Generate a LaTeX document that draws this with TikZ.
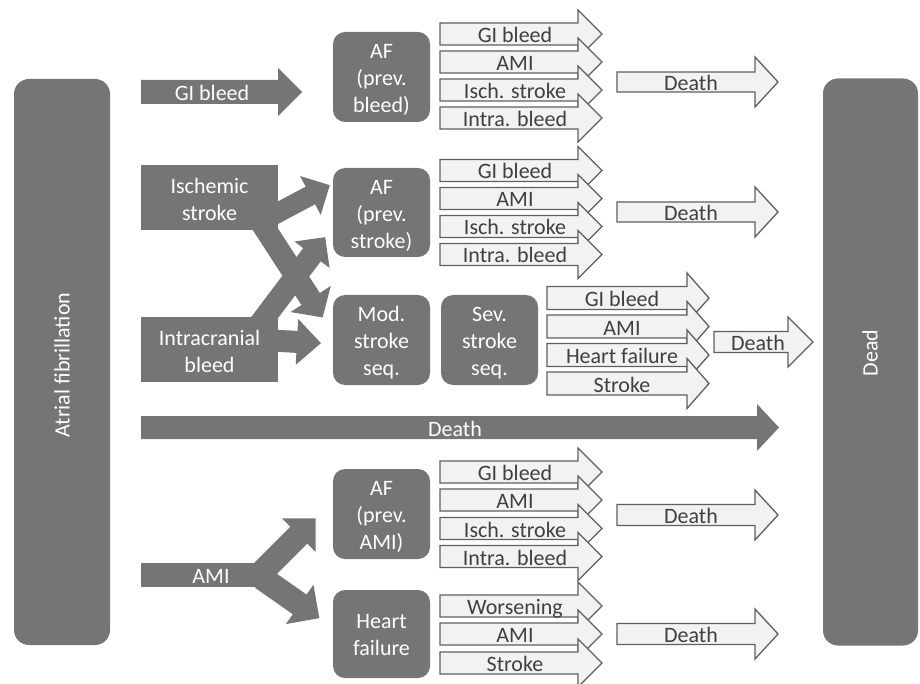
\documentclass[tikz,border=0pt]{standalone}
\usepackage{fontspec}
\setmainfont{Carlito}
\definecolor{dk}{RGB}{117,117,117}
\definecolor{lt}{RGB}{242,242,242}
\definecolor{ln}{RGB}{95,95,95}
\definecolor{tx}{RGB}{64,64,64}
\tikzset{
  larw/.style={fill=lt, draw=ln, line width=1.3pt, line join=miter},
  ltxt/.style={anchor=base, text=tx, inner sep=0pt, font=\fontsize{22}{27}\selectfont},
  wtxt/.style={text=white, inner sep=0pt, align=center, font=\fontsize{22}{27}\selectfont},
  wbase/.style={wtxt, anchor=base},
  dbox/.style={fill=dk, draw=none, rounded corners=12pt, inner sep=0pt},
  dbar/.style={fill=dk, draw=none, rounded corners=15pt, inner sep=0pt},
  drect/.style={fill=dk, draw=none, inner sep=0pt}
}
% light block arrow: name, xl, xb, xt, yc, halfbody, halfhead, text, textx
\newcommand{\LArw}[9]{%
  \filldraw[larw] ({#2},{#5-#6}) -- ({#3},{#5-#6}) -- ({#3},{#5-#7}) -- ({#4},{#5})
     -- ({#3},{#5+#7}) -- ({#3},{#5+#6}) -- ({#2},{#5+#6}) -- cycle;
  \node[ltxt] (#1) at ({#9},{#5+8.5}) {#8};
}
% dark block arrow: x0, y0, angle, length, halfshaft, halfhead, headlength
\newcommand{\DArw}[7]{%
  \begin{scope}[shift={(#1,#2)},rotate=#3]
    \fill[dk] (0,{-#5}) -- ({#4-#7},{-#5}) -- ({#4-#7},{-#6}) -- (#4,0)
      -- ({#4-#7},{#6}) -- ({#4-#7},{#5}) -- (0,{#5}) -- cycle;
  \end{scope}}
\begin{document}
\begin{tikzpicture}[x=1pt,y=-1pt]
\useasboundingbox (0,0) rectangle (920,684);

% side bars
\node[dbar, minimum width=96pt, minimum height=566pt] (af) at (62,362) {};
\node[wtxt, rotate=90] (aft) at (62,365) {Atrial fibrillation};
\node[dbar, minimum width=95pt, minimum height=567pt] (dead) at (870.5,362) {};
\node[wtxt, rotate=90] (deadt) at (870,353) {Dead};

% ---- top: GI bleed
\DArw{141}{92}{0}{161}{12}{24}{24}
\node[wbase] (gib) at (212,100.5) {GI bleed};
\node[dbox, minimum width=97pt, minimum height=90pt] (af1) at (381.5,77) {};
\node[wtxt] (af1t) at ([yshift=-3pt]af1.center) {AF\\(prev.\\bleed)};
\LArw{g1a}{440}{578}{602}{34}{11}{24}{GI bleed}{515}
\LArw{g1b}{440}{578}{602}{62}{11}{24}{AMI}{515}
\LArw{g1c}{440}{578}{602}{90}{11}{24}{Isch. stroke}{515}
\LArw{g1d}{440}{578}{602}{118}{11}{24}{Intra. bleed}{515}
\LArw{d1}{617}{755}{778}{82}{10}{25}{Death}{691}

% ---- stroke cross
\DArw{268}{218}{28}{70}{10}{22}{22}
\DArw{260}{221}{-57}{115}{11}{24}{22}
\DArw{253}{333}{53}{120}{11}{22}{22}
\DArw{261}{340}{-3}{60}{11}{23}{24}
\node[drect, minimum width=137pt, minimum height=65pt] (isch) at (209.5,197.5) {};
\node[wtxt] (ischt) at ([yshift=-1.5pt]isch.center) {Ischemic\\stroke};
\node[drect, minimum width=137pt, minimum height=65pt] (intra) at (209.5,349.5) {};
\node[wtxt] (intrat) at ([yshift=-1.5pt]intra.center) {Intracranial\\bleed};

\node[dbox, minimum width=97pt, minimum height=89pt] (af2) at (381.5,212.5) {};
\node[wtxt] (af2t) at ([yshift=-3pt]af2.center) {AF\\(prev.\\stroke)};
\LArw{g2a}{440}{578}{602}{170.5}{11}{24}{GI bleed}{515}
\LArw{g2b}{440}{578}{602}{198.5}{11}{24}{AMI}{515}
\LArw{g2c}{440}{578}{602}{226.5}{11}{24}{Isch. stroke}{515}
\LArw{g2d}{440}{578}{602}{254.5}{11}{24}{Intra. bleed}{515}
\LArw{d2}{617}{755}{778}{212}{10}{25}{Death}{691}

\node[dbox, minimum width=97pt, minimum height=90pt] (mod) at (381.5,340) {};
\node[wtxt] (modt) at ([yshift=-3pt]mod.center) {Mod.\\stroke\\seq.};
\node[dbox, minimum width=97pt, minimum height=90pt] (sev) at (489.5,340) {};
\node[wtxt] (sevt) at ([yshift=-3pt]sev.center) {Sev.\\stroke\\seq.};
\LArw{g3a}{547}{687}{709}{298}{11.5}{25}{GI bleed}{622}
\LArw{g3b}{547}{687}{709}{326.5}{11.5}{25}{AMI}{622}
\LArw{g3c}{547}{687}{709}{355}{11.5}{25}{Heart failure}{622}
\LArw{g3d}{547}{687}{709}{383.5}{11.5}{25}{Stroke}{622}
\LArw{d3}{714}{788}{813}{342}{10.5}{25}{Death}{758}

% ---- big death
\DArw{141}{427.5}{0}{638}{11.5}{23.5}{22}
\node[wbase] (death) at (455,436) {Death};

% ---- AMI
\fill[dk] (141,563) rectangle (270,587);
\DArw{262}{572}{45}{76}{12}{24}{24}
\DArw{262}{578}{-35}{70}{12}{24}{24}
\node[wbase] (ami) at (211,583.5) {AMI};

\node[dbox, minimum width=97pt, minimum height=90pt] (af4) at (381.5,514) {};
\node[wtxt] (af4t) at ([yshift=-3pt]af4.center) {AF\\(prev.\\AMI)};
\LArw{g4a}{440}{578}{602}{472}{11}{24}{GI bleed}{515}
\LArw{g4b}{440}{578}{602}{500}{11}{24}{AMI}{515}
\LArw{g4c}{440}{578}{602}{528.5}{11}{24}{Isch. stroke}{515}
\LArw{g4d}{440}{578}{602}{556.5}{11}{24}{Intra. bleed}{515}
\LArw{d4}{617}{755}{778}{515}{10.5}{25}{Death}{691}

\node[dbox, minimum width=97pt, minimum height=88pt] (hf) at (381.5,634) {};
\node[wtxt] (hft) at ([yshift=-1.5pt]hf.center) {Heart\\failure};
\LArw{g5a}{440}{578}{602}{606}{11}{24}{Worsening}{515}
\LArw{g5b}{440}{578}{602}{634}{11}{24}{AMI}{515}
\LArw{g5c}{440}{578}{602}{663}{11}{24}{Stroke}{515}
\LArw{d5}{617}{755}{778}{634}{10.5}{25}{Death}{691}
\end{tikzpicture}
\end{document}
